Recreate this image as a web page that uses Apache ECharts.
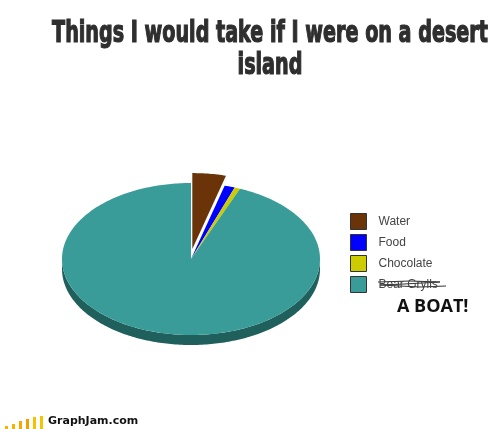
<!DOCTYPE html>
<html>
<head>
<meta charset="utf-8">
<script src="https://cdn.jsdelivr.net/npm/echarts@6/dist/echarts.min.js"></script>
<style>
  html, body { margin: 0; padding: 0; background: #fff; }
  #chart { width: 500px; height: 429px; }
</style>
</head>
<body>
<div id="chart"></div>
<script>
// slice data
const sliceNames = ["Water", "Food", "Chocolate", "Bear Grylls"];
const sliceValues = [4.2, 1.3, 0.7, 93.8];
const sliceColors = ["#6b3308", "#0000ff", "#cccc00", "#3a9c99"];
const sideColors = ["#3d1d04", "#000099", "#7a7a00", "#1f5f5c"];
const sliceExplode = [10, 0, 0, 0];

// pie geometry (pixels)
const cx = 191, cy = 259, rx = 129, ry = 76, depth = 10;

const total = sliceValues.reduce((a, b) => a + b, 0);
const starts = [];
sliceValues.reduce((acc, v, i) => { starts[i] = acc; return acc + v; }, 0);

const pt = (th, ox, oy, dz) => [cx + ox + rx * Math.sin(th), cy + oy - ry * Math.cos(th) + dz];

const arc = (a0, a1, ox, oy, dz) => {
  const pts = [];
  const n = Math.max(2, Math.ceil((a1 - a0) / (Math.PI / 180)));
  for (let k = 0; k <= n; k++) pts.push(pt(a0 + (a1 - a0) * k / n, ox, oy, dz));
  return pts;
};

const makeRender = (i) => (params, api) => {
  const v = api.value(0);
  const a0 = starts[i] / total * Math.PI * 2;
  const a1 = (starts[i] + v) / total * Math.PI * 2;
  const mid = (a0 + a1) / 2;
  const ox = sliceExplode[i] * Math.sin(mid);
  const oy = -sliceExplode[i] * Math.cos(mid);
  const children = [];
  // front side wall
  const s0 = Math.max(a0, Math.PI / 2), s1 = Math.min(a1, Math.PI * 1.5);
  if (s1 > s0) {
    const side = arc(s0, s1, ox, oy, 0).concat(arc(s0, s1, ox, oy, depth).reverse());
    children.push({ type: "polygon", shape: { points: side }, style: { fill: sideColors[i] } });
  }
  const top = [[cx + ox, cy + oy]].concat(arc(a0, a1, ox, oy, 0));
  children.push({ type: "polygon", shape: { points: top }, style: { fill: api.visual("color") } });
  return { type: "group", children };
};

const chart = echarts.init(document.getElementById("chart"));

const option = {
  backgroundColor: "#fff",
  animation: false,
  legend: {
    orient: "vertical",
    left: 350,
    top: 213,
    padding: 0,
    icon: "rect",
    itemWidth: 16,
    itemHeight: 16,
    itemGap: 4,
    selectedMode: false,
    itemStyle: { borderColor: "#333", borderWidth: 1 },
    textStyle: {
      fontFamily: "Liberation Sans",
      fontSize: 12,
      lineHeight: 14,
      color: "#444",
      padding: [0, 0, 0, 7]
    },
    data: sliceNames
  },
  graphic: [
    {
      // title, squeezed to look like the heavy condensed original
      type: "text",
      x: 270,
      y: 18,
      scaleX: 0.71,
      style: {
        text: "Things I would take if I were on a desert\nisland",
        align: "center",
        verticalAlign: "top",
        fontFamily: "'DejaVu Sans Condensed', 'DejaVu Sans', sans-serif",
        fontWeight: "bold",
        fontSize: 30,
        lineHeight: 32,
        fill: "#2e2e2e",
        stroke: "#2e2e2e",
        lineWidth: 1.2
      }
    },
    {
      type: "polyline",
      shape: { points: [[378, 282], [410, 281], [440, 282], [404, 284], [380, 285], [420, 287], [446, 286]] },
      style: { stroke: "#333", lineWidth: 1, fill: null }
    },
    {
      type: "text",
      left: 397,
      top: 298,
      style: { text: "A BOAT!", fontFamily: "Open Sans", fontWeight: "bold", fontSize: 18, fill: "#111" }
    },
    { type: "rect", shape: { x: 5, y: 426, width: 3, height: 3 }, style: { fill: "#f6b400" } },
    { type: "rect", shape: { x: 12, y: 424, width: 3, height: 5 }, style: { fill: "#f6b400" } },
    { type: "rect", shape: { x: 19, y: 421, width: 3, height: 8 }, style: { fill: "#f4a800" } },
    { type: "rect", shape: { x: 26, y: 419, width: 3, height: 10 }, style: { fill: "#f2a000" } },
    { type: "rect", shape: { x: 33, y: 417, width: 3, height: 12 }, style: { fill: "#f7c000" } },
    { type: "rect", shape: { x: 40, y: 416, width: 3, height: 13 }, style: { fill: "#f7c400" } },
    {
      type: "text",
      left: 48,
      top: 416,
      style: { text: "GraphJam.com", fontFamily: "DejaVu Sans", fontWeight: "bold", fontSize: 11, fill: "#111" }
    }
  ],
  series: sliceNames.map((name, i) => ({
    type: "custom",
    name: name,
    coordinateSystem: "none",
    itemStyle: { color: sliceColors[i] },
    data: [[sliceValues[i]]],
    renderItem: makeRender(i)
  }))
};

chart.setOption(option);
</script>
</body>
</html>
